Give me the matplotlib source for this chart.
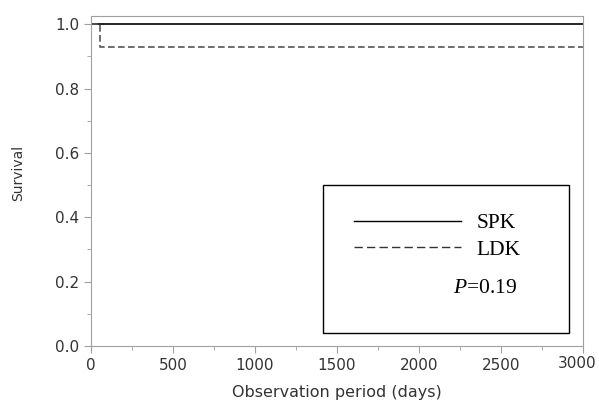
import matplotlib
matplotlib.use("Agg")
import matplotlib.pyplot as plt
from matplotlib.lines import Line2D
from matplotlib.patches import Rectangle
from matplotlib.ticker import MultipleLocator

# Kaplan-Meier style step data
spk_days = [0, 3000]
spk_survival = [1.0, 1.0]
ldk_days = [0, 55, 3000]
ldk_survival = [1.0, 0.93, 0.93]
p_value = "0.19"
x_max = 3000

GRAY = "#a0a0a0"
TEXT = "#333333"

plt.rcParams["mathtext.fontset"] = "custom"
plt.rcParams["mathtext.it"] = "Liberation Serif:italic"
plt.rcParams["mathtext.rm"] = "Liberation Serif"

fig = plt.figure(figsize=(5.99, 4.04), dpi=100)
ax = fig.add_axes([91 / 599, 58 / 404, 492 / 599, 330.5 / 404])

ax.plot(spk_days, spk_survival, color="black", linewidth=1.2,
        drawstyle="steps-post")
ax.plot(ldk_days, ldk_survival, color="#555555", linewidth=1.2,
        linestyle=(0, (4, 2)), drawstyle="steps-post")

ax.set_xlim(0, x_max)
ax.set_ylim(0, 1.027)
ax.xaxis.set_major_locator(MultipleLocator(500))
ax.xaxis.set_minor_locator(MultipleLocator(250))
ax.yaxis.set_major_locator(MultipleLocator(0.2))
ax.yaxis.set_minor_locator(MultipleLocator(0.1))
ax.yaxis.set_major_formatter(lambda v, pos: f"{v:.1f}")
# last x label is drawn separately so it stays inside the image
ax.xaxis.set_major_formatter(lambda v, pos: "" if v >= x_max else f"{v:.0f}")

for side in ax.spines.values():
    side.set_color(GRAY)
ax.tick_params(which="both", color=GRAY, labelcolor=TEXT, labelsize=11)
ax.tick_params(which="major", length=5)
ax.tick_params(which="minor", length=3)

ax.annotate(f"{x_max}", xy=(x_max, 0), xycoords=("data", "axes fraction"),
            xytext=(10, -7.2), textcoords="offset points",
            ha="right", va="top", fontsize=11, color=TEXT)

ax.set_xlabel("Observation period (days)", fontsize=11.5, color=TEXT, labelpad=9)
ax.set_ylabel("Survival", fontsize=10, color=TEXT)
ax.yaxis.set_label_coords(-0.133, 0.523)

# legend box
ax.add_patch(Rectangle((0.471, 0.038), 0.501, 0.448, transform=ax.transAxes,
                       fill=False, edgecolor="black", linewidth=1.0))
handles = [
    Line2D([], [], color="black", linewidth=1.0),
    Line2D([], [], color="#333333", linewidth=1.0, linestyle=(0, (6, 3))),
]
leg = ax.legend(handles, ["SPK", "LDK"], loc="upper left",
                bbox_to_anchor=(0.535, 0.402), frameon=False,
                prop={"family": "Liberation Serif", "size": 15.5},
                handlelength=4.97, handletextpad=0.7, labelspacing=0.3,
                borderpad=0, borderaxespad=0)

ax.text(0.735, 0.175, f"$\\mathit{{P}}$={p_value}", transform=ax.transAxes,
        family="Liberation Serif", fontsize=15.5, va="center", ha="left")

fig.savefig("out.png", dpi=100)
